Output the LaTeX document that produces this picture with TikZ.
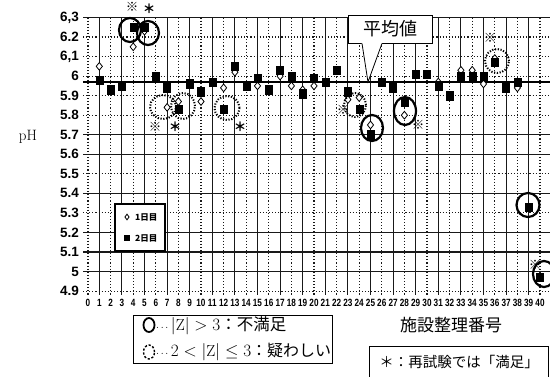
\documentclass[tikz,border=0pt]{standalone}
\usepackage{fontspec}
\usepackage{graphicx}
\newfontfamily\jp{Noto Sans CJK JP}
\newfontfamily\tk{Liberation Sans}
\usetikzlibrary{shapes.geometric}
\begin{document}
\begin{tikzpicture}[x=1pt,y=-1pt,
  declare function={px(\i)=88+11.3*\i; py(\v)=17.5+(6.3-\v)*195.4;},
  gsolid/.style={black!90, line width=1.1pt},
  gdot/.style={black!90, line width=1.1pt, dotted},
  sqm/.style={rectangle, fill=black, draw=black, minimum width=7pt, minimum height=8.5pt, inner sep=0pt},
  dmm/.style={diamond, draw=black, fill=white, line width=0.8pt, minimum width=6.5pt, minimum height=8pt, inner sep=0pt},
  ring/.style={ellipse, draw=black, line width=2.2pt, inner sep=0pt},
  dring/.style={ellipse, draw=black, line width=2pt, dash pattern=on 1.2pt off 1.6pt, inner sep=0pt},
  astm/.style={font=\jp\bfseries\fontsize{12.5}{12.5}\selectfont, inner sep=0pt},
  ytl/.style={anchor=east, inner sep=0pt, font=\tk\bfseries\fontsize{13.5}{13.5}\selectfont},
  xtl/.style={inner sep=0pt, font=\tk\bfseries\fontsize{10.5}{10.5}\selectfont},
  jpt/.style={inner sep=0pt, font=\jp\fontsize{#1}{#1}\selectfont},
]
\useasboundingbox (0,0) rectangle (550,376);
\fill[white] (0,0) rectangle (550,376);

% horizontal grid
\foreach \v/\s in {6.3/gsolid,6.2/gdot,6.1/gdot,6.0/gdot,5.9/gdot,5.8/gdot,5.7/gsolid,5.6/gsolid,5.5/gdot,5.4/gsolid,5.3/gdot,5.2/gsolid,5.1/gsolid,5.0/gsolid,4.9/gdot}
  \draw[\s] (83,{py(\v)}) -- (550,{py(\v)});
% vertical grid
\foreach \i in {0,...,40}{
  \ifodd\i \def\st{gsolid}\else\def\st{gdot}\fi
  \draw[\st] ({px(\i)},17.5) -- ({px(\i)},295);
}
% mean line
\draw[line width=1.9pt] (83,{py(5.97)}) -- (550,{py(5.97)});

% y tick labels
\foreach \v/\t [count=\k] in {6.3/{6,3},6.2/6.2,6.1/{6,1},6.0/6,5.9/5.9,5.8/5.8,5.7/5.7,5.6/5.6,5.5/5.5,5.4/5.4,5.3/5.3,5.2/5.2,5.1/5.1,5.0/5,4.9/4.9}
  \node[ytl] (ylab\k) at (79,{py(\v)}) {\t};
% x tick labels
\foreach \i in {0,...,40}
  \node[xtl] (xlab\i) at ({px(\i)},303) {\scalebox{0.78}[1]{\i}};

% axis title
\node[inner sep=0pt, font=\fontsize{15}{15}\selectfont] (ph) at (28,137) {pH};

% diamonds (day 1)
\foreach \i/\d in {1/6.05,4/6.15,5/6.23,7/5.84,8/5.87,10/5.87,12/5.94,13/6.02,15/5.95,17/6.00,18/5.95,19/5.93,20/5.95,23/5.88,24/5.89,25/5.75,28/5.80,31/5.97,33/6.03,34/6.03,35/5.96,36/6.09,38/5.94}
  \node[dmm] (d\i) at ({px(\i)},{py(\d)}) {};
% squares (day 2)
\foreach \i/\s in {1/5.98,2/5.93,3/5.95,4/6.25,5/6.25,6/6.00,7/5.94,8/5.83,9/5.96,10/5.92,11/5.97,12/5.83,13/6.05,14/5.95,15/5.99,16/5.93,17/6.03,18/6.00,19/5.91,20/5.99,21/5.97,22/6.03,23/5.92,24/5.83,25/5.70,26/5.97,27/5.94,28/5.87,29/6.01,30/6.01,31/5.95,32/5.90,33/6.00,34/6.00,35/6.00,36/6.07,37/5.94,38/5.97,39/5.33,40/4.97}
  \node[sqm] (s\i) at ({px(\i)},{py(\s)}) {};

% solid rings (|Z|>3)
\node[ring, minimum width=22pt, minimum height=24pt] (r4) at (130,30) {};
\node[ring, minimum width=22pt, minimum height=24pt] (r5) at (148,33) {};
\node[ring, minimum width=22pt, minimum height=26pt] (r25) at (372,128) {};
\node[ring, minimum width=22pt, minimum height=28pt] (r28) at (405,111) {};
\node[ring, minimum width=23pt, minimum height=24pt] (r39) at (528,205) {};
\node[ring, minimum width=22pt, minimum height=26pt] (r40) at (544,274) {};
% dotted rings (2<|Z|<=3)
\node[dring, minimum width=26pt, minimum height=24pt] (q7) at (163,107) {};
\node[dring, minimum width=24pt, minimum height=26pt] (q8) at (183,106) {};
\node[dring, minimum width=25pt, minimum height=24pt] (q12) at (227,108) {};
\node[dring, minimum width=22pt, minimum height=24pt] (q24) at (355,105) {};
\node[dring, minimum width=24pt, minimum height=24pt] (q36) at (497,61) {};

% retest marks
\node[astm] (a4) at (132,7) {※};
\node[astm] (a5) at (149,9) {＊};
\node[astm] (a7) at (155,127) {※};
\node[astm] (a8) at (175,127) {＊};
\node[astm] (a12) at (240,127) {＊};
\node[astm] (a24) at (343,110) {※};
\node[astm] (a28) at (418,125) {※};
\node[astm] (a36) at (490,38) {※};
\node[astm] (a40) at (535,265) {※};

% mean callout
\node[draw, fill=white, line width=0.8pt, minimum width=84pt, minimum height=28pt, inner sep=0pt, jpt=18] (mean) at (390,29) {平均値};
\coordinate (tip) at (368,82);
\fill[white] (361.6,42.3) -- (tip) -- (382.4,42.3) -- cycle;
\draw[line width=0.8pt] ([xshift=-28pt]mean.south) -- (tip) -- ([xshift=-8pt]mean.south);

% in-plot legend
\node[draw, fill=white, line width=1.3pt, minimum width=50pt, minimum height=47pt, inner sep=0pt] (leg) at (140,227.5) {};
\node[dmm, minimum width=4.5pt, minimum height=6pt] (legd) at (127,217) {};
\node[inner sep=0pt, anchor=west, font=\jp\bfseries\fontsize{8.5}{8.5}\selectfont] (legt1) at (135,217) {1日目};
\node[sqm, minimum width=5pt, minimum height=5pt] (legs) at (127,238) {};
\node[inner sep=0pt, anchor=west, font=\jp\bfseries\fontsize{8.5}{8.5}\selectfont] (legt2) at (135,238) {2日目};

% bottom legend
\node[draw, line width=1pt, minimum width=199pt, minimum height=48pt, inner sep=0pt] (zleg) at (233,339) {};
\node[ellipse, draw=black, line width=1.8pt, minimum width=11pt, minimum height=14pt, inner sep=0pt] (zc1) at (149,325) {};
\node[anchor=west, inner sep=0pt, font=\fontsize{16}{16}\selectfont] (zt1) at (156,326) {\scalebox{0.6}{$\cdots$}\,$|\mathrm{Z}|>3${\jp\fontsize{16.5}{16.5}\selectfont ：不満足}};
\node[ellipse, draw=black, line width=1.4pt, dash pattern=on 2.2pt off 1.8pt, minimum width=11pt, minimum height=14pt, inner sep=0pt] (zc2) at (149,352) {};
\node[anchor=west, inner sep=0pt, font=\fontsize{16}{16}\selectfont] (zt2) at (156,352) {\scalebox{0.6}{$\cdots$}\,$2<|\mathrm{Z}|\leq 3${\jp ：疑わしい}};

% x axis title
\node[jpt=17] (xtitle) at (451,325) {施設整理番号};

% retest note box
\draw[line width=1pt] (369,377) -- (369,346) -- (548,346) -- (548,377);
\node[jpt=14.5] (retest) at (459,362) {＊：再試験では「満足」};
\end{tikzpicture}
\end{document}
